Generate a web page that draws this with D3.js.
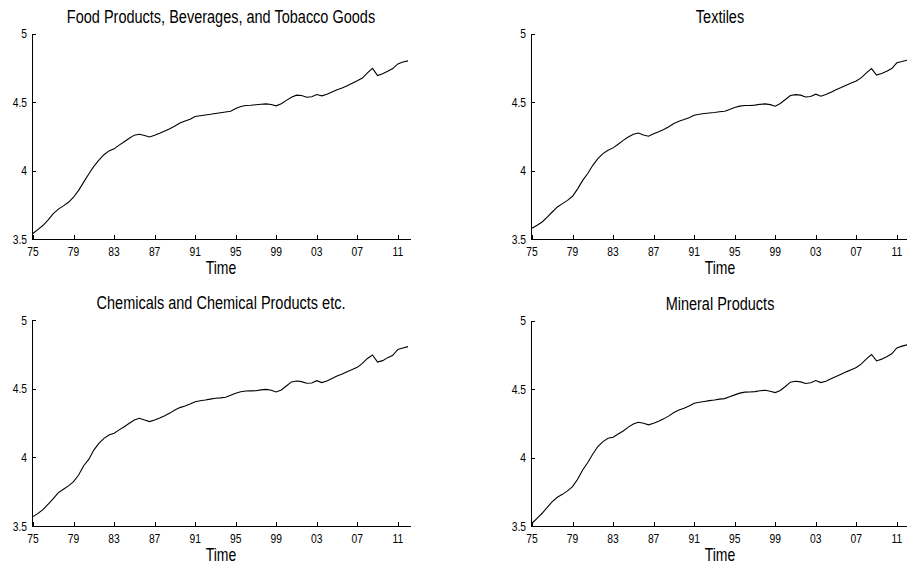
<!DOCTYPE html>
<html>
<head>
<meta charset="utf-8">
<script src="https://cdn.jsdelivr.net/npm/d3@7"></script>
<style>
  body { margin: 0; background: #fff; }
  svg { display: block; }
  text { font-family: "Liberation Sans", Arial, Helvetica, sans-serif; fill: #000; }
  .axis path, .axis line { stroke: #000; shape-rendering: crispEdges; }
</style>
</head>
<body>
<div id="chart"></div>
<script>
// time index, half-year steps 1975 .. 2012
var years = d3.range(1975, 2012.01, 0.5);

var xTickYears = [1975, 1979, 1983, 1987, 1991, 1995, 1999, 2003, 2007, 2011];
var xTickLabels = ["75", "79", "83", "87", "91", "95", "99", "03", "07", "11"];
var yTicks = [3.5, 4, 4.5, 5];
var yTickLabels = ["3.5", "4", "4.5", "5"];

var titles = [
  "Food Products, Beverages, and Tobacco Goods",
  "Textiles",
  "Chemicals and Chemical Products etc.",
  "Mineral Products"
];

var food = [
  3.540, 3.570, 3.600, 3.640, 3.685, 3.718, 3.742, 3.768, 3.805, 3.855,
  3.915, 3.975, 4.030, 4.075, 4.115, 4.143, 4.158, 4.185, 4.210, 4.235,
  4.258, 4.265, 4.255, 4.245, 4.258, 4.272, 4.288, 4.305, 4.325, 4.347,
  4.362, 4.374, 4.394, 4.400, 4.405, 4.410, 4.416, 4.422, 4.427, 4.432,
  4.452, 4.467, 4.474, 4.476, 4.480, 4.484, 4.486, 4.482, 4.472, 4.487,
  4.512, 4.535, 4.550, 4.547, 4.535, 4.538, 4.555, 4.545, 4.556, 4.573,
  4.590, 4.602, 4.618, 4.637, 4.655, 4.675, 4.712, 4.745, 4.693, 4.706,
  4.725, 4.744, 4.778, 4.792, 4.800
];

var textiles = [
  3.578, 3.600, 3.624, 3.660, 3.697, 3.734, 3.758, 3.782, 3.812, 3.866,
  3.928, 3.978, 4.038, 4.087, 4.123, 4.148, 4.165, 4.192, 4.220, 4.244,
  4.265, 4.274, 4.259, 4.250, 4.268, 4.283, 4.300, 4.320, 4.343, 4.360,
  4.372, 4.385, 4.403, 4.410, 4.416, 4.420, 4.423, 4.429, 4.433, 4.446,
  4.460, 4.470, 4.474, 4.475, 4.477, 4.483, 4.486, 4.481, 4.469, 4.489,
  4.518, 4.547, 4.554, 4.550, 4.537, 4.540, 4.557, 4.542, 4.554, 4.572,
  4.590, 4.605, 4.623, 4.638, 4.654, 4.678, 4.713, 4.744, 4.696, 4.708,
  4.725, 4.744, 4.786, 4.795, 4.805
];

var chemicals = [
  3.568, 3.592, 3.621, 3.660, 3.700, 3.743, 3.767, 3.792, 3.823, 3.871,
  3.939, 3.985, 4.053, 4.102, 4.138, 4.163, 4.175, 4.200, 4.223, 4.248,
  4.272, 4.284, 4.272, 4.260, 4.272, 4.287, 4.303, 4.322, 4.345, 4.362,
  4.374, 4.388, 4.405, 4.412, 4.417, 4.424, 4.430, 4.433, 4.437, 4.452,
  4.466, 4.478, 4.483, 4.484, 4.485, 4.491, 4.495, 4.488, 4.476, 4.490,
  4.519, 4.549, 4.556, 4.551, 4.539, 4.541, 4.558, 4.544, 4.556, 4.574,
  4.592, 4.607, 4.624, 4.640, 4.655, 4.684, 4.720, 4.745, 4.694, 4.704,
  4.726, 4.743, 4.786, 4.796, 4.806
];

var mineral = [
  3.520, 3.556, 3.593, 3.636, 3.678, 3.710, 3.731, 3.756, 3.787, 3.841,
  3.909, 3.963, 4.026, 4.080, 4.116, 4.140, 4.148, 4.172, 4.194, 4.222,
  4.245, 4.257, 4.250, 4.238, 4.250, 4.265, 4.282, 4.304, 4.328, 4.346,
  4.360, 4.376, 4.396, 4.403, 4.409, 4.415, 4.420, 4.426, 4.430, 4.444,
  4.457, 4.470, 4.477, 4.478, 4.481, 4.487, 4.491, 4.484, 4.474, 4.489,
  4.518, 4.550, 4.557, 4.552, 4.540, 4.545, 4.562, 4.547, 4.557, 4.574,
  4.591, 4.608, 4.625, 4.641, 4.657, 4.683, 4.720, 4.752, 4.705, 4.718,
  4.735, 4.757, 4.800, 4.813, 4.822
];

var series = [food, textiles, chemicals, mineral];

var W = 907, H = 567;

// panel boxes: left, right, top, bottom
var panels = [
  {left: 32,  right: 410, top: 33.5, bottom: 239},
  {left: 531, right: 909, top: 33.5, bottom: 239},
  {left: 32,  right: 410, top: 320,  bottom: 526},
  {left: 531, right: 909, top: 320.5, bottom: 526}
];

var svg = d3.select("#chart").append("svg")
    .attr("width", W)
    .attr("height", H);

panels.forEach(function(p, i) {

    var x = d3.scaleLinear()
        .domain([1974.9, 2012.2])
        .range([p.left, p.right]);

    var y = d3.scaleLinear()
        .domain([3.5, 5])
        .range([p.bottom, p.top]);

    var g = svg.append("g").attr("class", "panel");

    // x axis, ticks point into the plot
    g.append("g")
        .attr("class", "axis")
        .attr("transform", "translate(0," + p.bottom + ")")
        .call(d3.axisBottom(x).tickValues(xTickYears).tickSize(-4).tickSizeOuter(0).tickFormat(""));

    // y axis
    g.append("g")
        .attr("class", "axis")
        .attr("transform", "translate(" + p.left + ",0)")
        .call(d3.axisLeft(y).tickValues(yTicks).tickSize(-4).tickSizeOuter(0).tickFormat(""));

    g.selectAll(".axis text").remove();

    // tick labels (matlab style, slightly tall glyphs)
    xTickYears.forEach(function(t, k) {
        g.append("text")
            .attr("transform", "translate(" + x(t) + "," + (p.bottom + 17) + ") scale(1,1.28)")
            .attr("text-anchor", "middle")
            .style("font-size", "10.3px")
            .text(xTickLabels[k]);
    });

    yTicks.forEach(function(t, k) {
        g.append("text")
            .attr("transform", "translate(" + (p.left - 5) + "," + (y(t) + 4.5) + ") scale(1,1.28)")
            .attr("text-anchor", "end")
            .style("font-size", "10.3px")
            .text(yTickLabels[k]);
    });

    var cx = (p.left + p.right) / 2;

    g.append("text")
        .attr("transform", "translate(" + cx + "," + (p.top - 11) + ") scale(1,1.25)")
        .attr("text-anchor", "middle")
        .style("font-size", "14.5px")
        .text(titles[i]);

    g.append("text")
        .attr("transform", "translate(" + cx + "," + (p.bottom + 35) + ") scale(1,1.25)")
        .attr("text-anchor", "middle")
        .style("font-size", "14px")
        .text("Time");

    var line = d3.line()
        .x(function(d, k) { return x(years[k]); })
        .y(function(d) { return y(d); });

    g.append("path")
        .datum(series[i])
        .attr("fill", "none")
        .attr("stroke", "#000")
        .attr("stroke-width", 1.1)
        .attr("d", line);
});
</script>
</body>
</html>
